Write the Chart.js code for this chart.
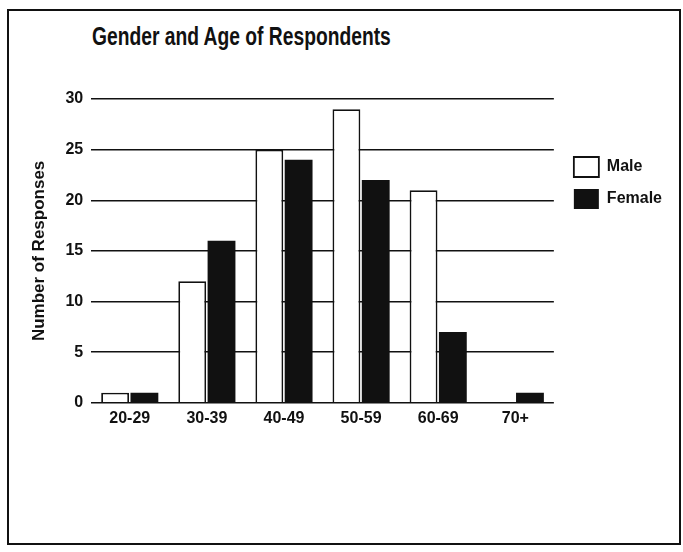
<!DOCTYPE html>
<html>
<head>
<meta charset="utf-8">
<script src="https://cdn.jsdelivr.net/npm/chart.js@4.4.1/dist/chart.umd.min.js"></script>
<style>
  body { margin: 0; background: #fff; }
  #frame {
    position: absolute; left: 7px; top: 9px; width: 670px; height: 532px;
    border: 2px solid #111;
  }
  #title {
    position: absolute; left: 92px; top: 22px;
    font-family: "Liberation Sans", sans-serif;
    font-size: 25px; font-weight: bold; color: #111;
    white-space: nowrap;
    transform: scaleX(0.77); transform-origin: left top;
  }
  #wrap { position: absolute; left: 0; top: 0; width: 683px; height: 552px; }
</style>
</head>
<body>
<div id="frame"></div>
<div id="title">Gender and Age of Respondents</div>
<div id="wrap"><canvas id="myChart"></canvas></div>
<script>
// Age groups and response counts
const ageGroups = ['20-29', '30-39', '40-49', '50-59', '60-69', '70+'];
const maleCounts = [1, 12, 25, 29, 21, 0];
const femaleCounts = [1, 16, 24, 22, 7, 1];
const yTicks = [0, 5, 10, 15, 20, 25, 30];

const labelFont = { family: '"Liberation Sans", sans-serif', size: 16, weight: 'bold' };

// Leaves a small gap between the plot and the legend
const legendGap = {
    id: 'legendGap',
    afterLayout(chart) {
        chart.legend.left += 8;
        chart.legend.right += 8;
    }
};

const ctx = document.getElementById('myChart');

const chart = new Chart(ctx, {
    type: 'bar',
    data: {
        labels: ageGroups,
        datasets: [{
            label: 'Male',
            data: maleCounts,
            backgroundColor: '#fff',
            borderColor: '#111',
            borderWidth: 1.8,
        }, {
            label: 'Female',
            data: femaleCounts,
            backgroundColor: '#111',
            borderColor: '#111',
            borderWidth: 0,
        }]
    },
    plugins: [legendGap],
    options: {
        responsive: true,
        maintainAspectRatio: false,
        animation: false,
        layout: { padding: { top: 99, left: 25, right: 19, bottom: 118 } },
        datasets: { bar: { categoryPercentage: 0.76, barPercentage: 0.95 } },
        plugins: {
            tooltip: { enabled: false },
            legend: {
                position: 'right',
                align: 'start',
                title: { display: true, text: ' ', padding: 17, font: { size: 10 } },
                labels: {
                    color: '#111',
                    font: labelFont,
                    boxWidth: 25,
                    boxHeight: 20,
                    padding: 12,
                }
            }
        },
        scales: {
            x: {
                grid: { display: false, drawTicks: false },
                border: { display: false },
                ticks: { color: '#111', font: labelFont, padding: 6 }
            },
            y: {
                min: 0,
                max: 30,
                afterBuildTicks: (scale) => {
                    scale.ticks = yTicks.map(v => ({ value: v }));
                },
                grid: { color: '#111', lineWidth: 1.5, drawTicks: false },
                border: { display: false },
                ticks: { color: '#111', font: labelFont, padding: 8 },
                title: {
                    display: true,
                    text: 'Number of Responses',
                    color: '#111',
                    font: { family: labelFont.family, size: 17, weight: 'bold' },
                    padding: { bottom: 8 }
                }
            }
        }
    }
});
</script>
</body>
</html>
